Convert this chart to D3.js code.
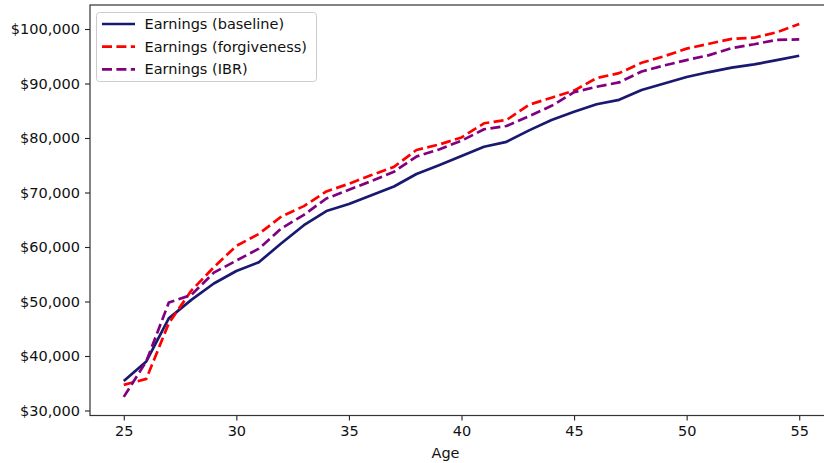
<!DOCTYPE html>
<html>
<head>
<meta charset="utf-8">
<script src="https://cdn.jsdelivr.net/npm/d3@7"></script>
<style>
  body { margin: 0; background: #fff; }
  svg { display: block; font-family: "DejaVu Sans", sans-serif; }
</style>
</head>
<body>
<div id="chart"></div>
<script>
// Earnings by age under three repayment scenarios
const ages = d3.range(25, 56);

const baseline = [
  35400, 39000, 46900, 50300, 53300, 55600, 57200, 60700, 64000, 66600,
  67900, 69500, 71100, 73400, 75000, 76700, 78400, 79300, 81400, 83300,
  84800, 86200, 87000, 88800, 90000, 91200, 92100, 92900, 93500, 94300, 95100
];
const forgiveness = [
  34700, 35800, 46000, 52000, 56300, 60200, 62400, 65600, 67500, 70200,
  71600, 73200, 74700, 77800, 78800, 80100, 82700, 83300, 86100, 87400,
  88700, 91000, 91900, 93800, 95000, 96400, 97300, 98200, 98400, 99400, 100900
];
const ibr = [
  32500, 39000, 49800, 51200, 55300, 57500, 59700, 63400, 65900, 68900,
  70500, 72100, 73800, 76600, 77900, 79500, 81600, 82200, 84000, 85900,
  88400, 89400, 90200, 92200, 93300, 94300, 95200, 96500, 97200, 98000, 98100
];

const seriesNames = ['Earnings (baseline)', 'Earnings (forgiveness)', 'Earnings (IBR)'];
const seriesColors = ['#191970', '#ff0000', '#800080'];
const seriesDash = [null, '10,4.4', '10,4.4'];
const xTicks = [25, 30, 35, 40, 45, 50, 55];
const yTicks = [30000, 40000, 50000, 60000, 70000, 80000, 90000, 100000];

const width = 824, height = 463;
const plot = { left: 90, top: 5, right: 833, bottom: 415.5 };
const lw = 2.7;

const x = d3.scaleLinear().domain([23.5, 56.5]).range([plot.left, plot.right]);
const y = d3.scaleLinear().domain([30000, 100000]).range([410.5, 29]);

const svg = d3.select('#chart').append('svg')
  .attr('width', width)
  .attr('height', height);

svg.append('rect').attr('width', width).attr('height', height).attr('fill', '#fff');

// lines
const line = d3.line().x((d, i) => x(ages[i])).y(d => y(d));
const allSeries = [baseline, forgiveness, ibr];

svg.append('defs').append('clipPath').attr('id', 'clip')
  .append('rect')
  .attr('x', plot.left).attr('y', plot.top)
  .attr('width', plot.right - plot.left).attr('height', plot.bottom - plot.top);

const g = svg.append('g').attr('clip-path', 'url(#clip)');
allSeries.forEach((s, k) => {
  g.append('path')
    .datum(s)
    .attr('fill', 'none')
    .attr('stroke', seriesColors[k])
    .attr('stroke-width', lw)
    .attr('stroke-dasharray', seriesDash[k])
    .attr('stroke-linejoin', 'round')
    .attr('d', line);
});

// axes
const xAxis = svg.append('g')
  .attr('transform', `translate(0,${plot.bottom})`)
  .call(d3.axisBottom(x).tickValues(xTicks).tickSize(5).tickPadding(5));

const yAxis = svg.append('g')
  .attr('transform', `translate(${plot.left},0)`)
  .call(d3.axisLeft(y).tickValues(yTicks).tickSize(5).tickPadding(5)
    .tickFormat(d => '$' + d3.format(',')(d)));

[xAxis, yAxis].forEach(a => {
  a.select('.domain').remove();
  a.selectAll('line').attr('stroke', '#222').attr('stroke-width', 1.1);
  a.selectAll('text').attr('fill', '#111').style('font-size', '14.5px').style('font-family', '"DejaVu Sans", sans-serif');
});

// spines
svg.append('rect')
  .attr('x', plot.left).attr('y', plot.top)
  .attr('width', plot.right - plot.left).attr('height', plot.bottom - plot.top)
  .attr('fill', 'none').attr('stroke', '#333').attr('stroke-width', 1.2);

svg.append('text')
  .attr('x', (plot.left + plot.right) / 2 - 16)
  .attr('y', 458)
  .attr('text-anchor', 'middle')
  .attr('fill', '#111')
  .style('font-size', '14.5px')
  .text('Age');

// legend
const legend = svg.append('g');
legend.append('rect')
  .attr('x', 96.5).attr('y', 12.5)
  .attr('width', 220).attr('height', 69)
  .attr('rx', 3)
  .attr('fill', '#fff').attr('fill-opacity', 0.8)
  .attr('stroke', '#ccc').attr('stroke-width', 1);

seriesNames.forEach((name, k) => {
  const ly = 24 + k * 22.7;
  legend.append('line')
    .attr('x1', 102).attr('x2', 135)
    .attr('y1', ly).attr('y2', ly)
    .attr('stroke', seriesColors[k])
    .attr('stroke-width', lw)
    .attr('stroke-dasharray', seriesDash[k]);
  legend.append('text')
    .attr('x', 144.5).attr('y', ly + 5)
    .attr('fill', '#111')
    .style('font-size', '14.5px')
    .text(name);
});
</script>
</body>
</html>
